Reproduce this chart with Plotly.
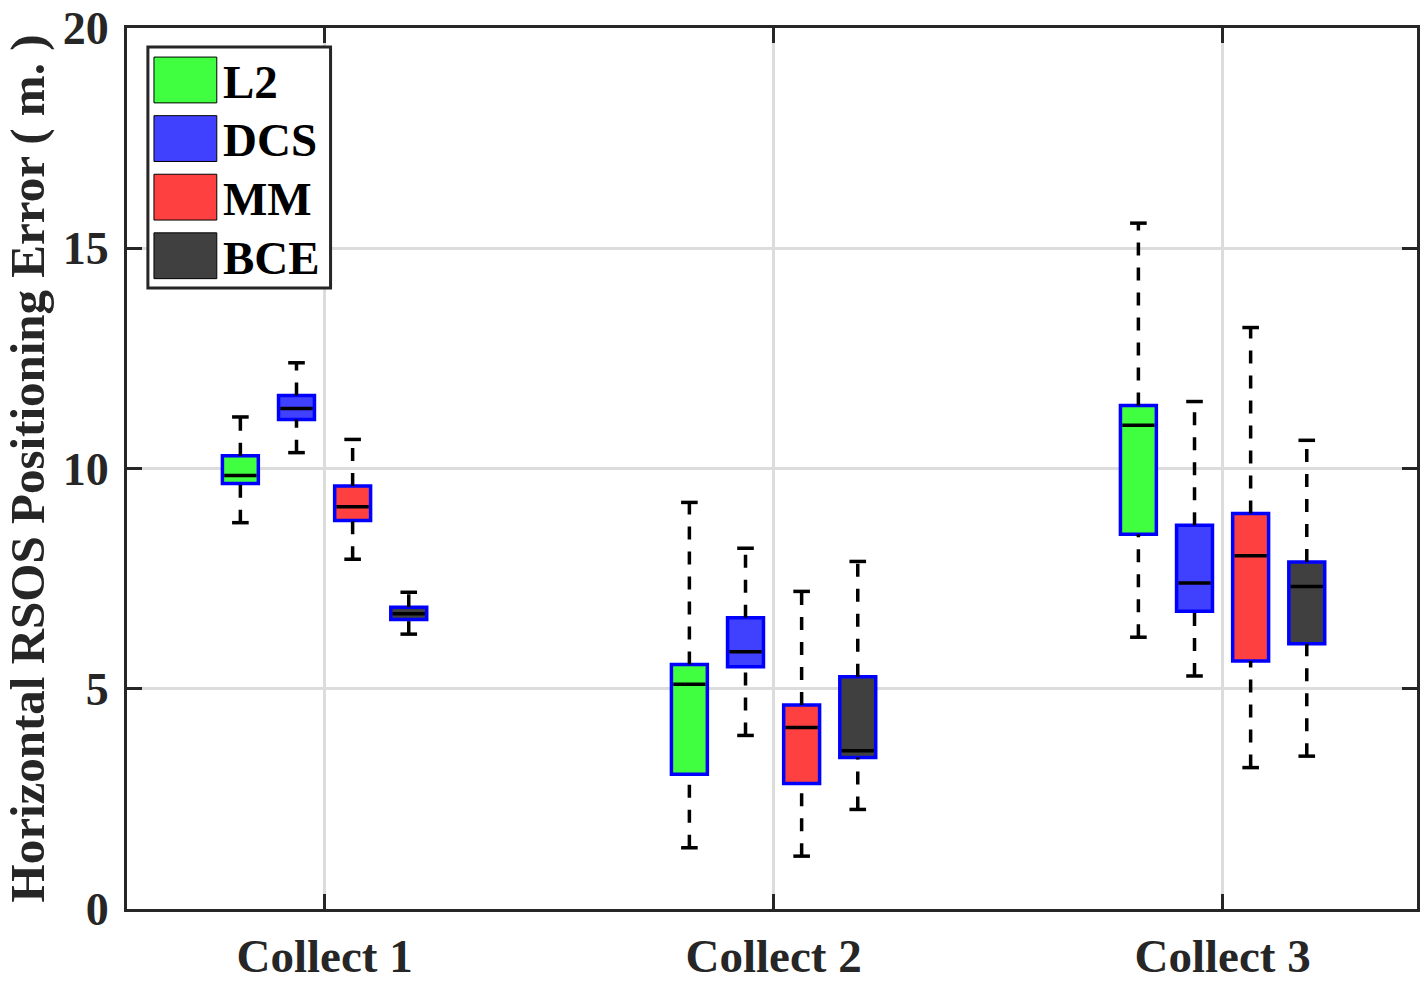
import plotly.graph_objects as go

# valores (metros)
categorias = ['Collect 1', 'Collect 2', 'Collect 3']
metodos = ['L2', 'DCS', 'MM', 'BCE']
colores = ['#40ff40', '#4040ff', '#ff4040', '#404040']

bigote_inf = {
    'L2': [8.77, 1.39, 6.17],
    'DCS': [10.36, 3.94, 5.29],
    'MM': [7.94, 1.20, 3.21],
    'BCE': [6.24, 2.26, 3.47],
}
q1 = {
    'L2': [9.66, 3.06, 8.51],
    'DCS': [11.11, 5.50, 6.76],
    'MM': [8.82, 2.85, 5.63],
    'BCE': [6.57, 3.44, 6.02],
}
mediana = {
    'L2': [9.84, 5.10, 10.98],
    'DCS': [11.36, 5.84, 7.40],
    'MM': [9.13, 4.12, 8.02],
    'BCE': [6.70, 3.59, 7.32],
}
q3 = {
    'L2': [10.29, 5.55, 11.43],
    'DCS': [11.66, 6.61, 8.71],
    'MM': [9.60, 4.63, 8.98],
    'BCE': [6.85, 5.27, 7.88],
}
bigote_sup = {
    'L2': [11.17, 9.23, 15.57],
    'DCS': [12.40, 8.19, 11.52],
    'MM': [10.66, 7.21, 13.20],
    'BCE': [7.19, 7.89, 10.64],
}

desplazamientos = [-0.1875, -0.0625, 0.0625, 0.1875]
ancho_caja = 0.08
ancho_tope = 0.037
fuente = 'Liberation Serif'
gris = '#262626'

fig = go.Figure()

for m, color, d in zip(metodos, colores, desplazamientos):
    xs = [i + 1 + d for i in range(len(categorias))]

    # bigotes punteados
    wx, wy = [], []
    for x, lo, a, b, hi in zip(xs, bigote_inf[m], q1[m], q3[m], bigote_sup[m]):
        wx += [x, x, None, x, x, None]
        wy += [lo, a, None, b, hi, None]
    fig.add_trace(go.Scatter(x=wx, y=wy, mode='lines', showlegend=False,
                             line=dict(color='black', width=3.5, dash='13px,12px')))

    # topes de los bigotes
    tx, ty = [], []
    for x, lo, hi in zip(xs, bigote_inf[m], bigote_sup[m]):
        tx += [x - ancho_tope / 2, x + ancho_tope / 2, None,
               x - ancho_tope / 2, x + ancho_tope / 2, None]
        ty += [lo, lo, None, hi, hi, None]
    fig.add_trace(go.Scatter(x=tx, y=ty, mode='lines', showlegend=False,
                             line=dict(color='black', width=3.5)))

    # cajas
    fig.add_trace(go.Bar(x=xs, y=[b - a for a, b in zip(q1[m], q3[m])], base=q1[m],
                         width=ancho_caja, showlegend=False,
                         marker=dict(color=color, line=dict(color='#0000ff', width=3.5))))

    # medianas
    mx, my = [], []
    for x, med in zip(xs, mediana[m]):
        mx += [x - ancho_caja / 2 + 0.004, x + ancho_caja / 2 - 0.004, None]
        my += [med, med, None]
    fig.add_trace(go.Scatter(x=mx, y=my, mode='lines', showlegend=False,
                             line=dict(color='black', width=3.5)))

# leyenda dibujada a mano (estilo MATLAB)
fig.add_shape(type='rect', xref='paper', yref='paper', x0=0.0162, x1=0.1578, y0=0.7048, y1=0.9785,
              line=dict(color=gris, width=3), fillcolor='white', layer='above')
for k, (m, color) in enumerate(zip(metodos, colores)):
    y_top = 0.967 - k * 0.0665
    fig.add_shape(type='rect', xref='paper', yref='paper', x0=0.0209, x1=0.0696,
                  y0=y_top - 0.052, y1=y_top, fillcolor=color,
                  line=dict(color='black', width=1), layer='above')
    fig.add_annotation(xref='paper', yref='paper', x=0.0728, y=y_top - 0.028, text=m,
                       showarrow=False, xanchor='left', yanchor='middle',
                       font=dict(family=fuente, size=47, color='black', weight='bold'))

fig.update_layout(
    width=1422, height=984,
    margin=dict(l=127, r=2, t=28, b=72),
    plot_bgcolor='white', paper_bgcolor='white',
    barmode='overlay',
    font=dict(family=fuente, size=46, color=gris, weight='bold'),
    showlegend=False,
)
fig.update_xaxes(range=[0.56, 3.433], tickvals=[1, 2, 3], ticktext=categorias,
                 ticks='inside', ticklen=15, tickwidth=3, tickcolor=gris,
                 showline=True, linecolor=gris, linewidth=3, mirror='ticks',
                 showgrid=True, gridcolor='#dcdcdc', gridwidth=3, zeroline=False,
                 tickfont=dict(size=47), ticklabeloverflow='allow', ticklabelstandoff=4)
fig.update_yaxes(range=[0, 20], tickvals=[0, 5, 10, 15, 20],
                 ticks='inside', ticklen=15, tickwidth=3, tickcolor=gris,
                 showline=True, linecolor=gris, linewidth=3, mirror='ticks',
                 showgrid=True, gridcolor='#dcdcdc', gridwidth=3, zeroline=False,
                 tickfont=dict(size=46), ticklabelstandoff=6, ticklabeloverflow='allow',
                 title=dict(text='Horizontal RSOS Positioning Error ( m. )',
                            font=dict(size=49), standoff=4))

# quitar el margen del body para que la figura llene la ventana
fig.write_html('out.html', config={'displayModeBar': False},
               post_script="document.body.style.margin='0';")
